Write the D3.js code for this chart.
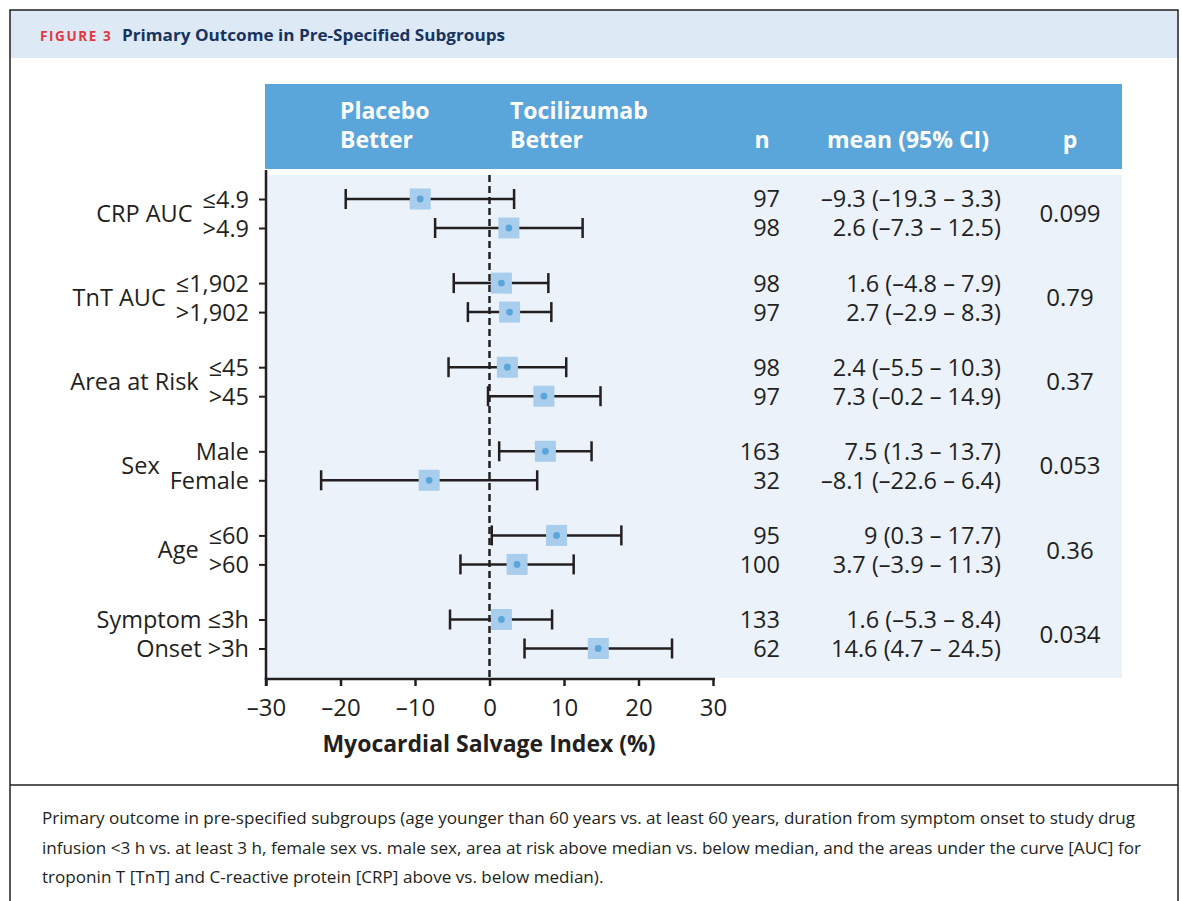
<!DOCTYPE html>
<html>
<head>
<meta charset="utf-8">
<script src="https://cdn.jsdelivr.net/npm/d3@7"></script>
<style>
  body { margin: 0; background: #fff; }
  svg { display: block; font-family: "Open Sans", "Noto Sans", sans-serif; }
</style>
</head>
<body>
<script>
// subgroup data
const groups = ["CRP AUC", "TnT AUC", "Area at Risk", "Sex", "Age", ""]
const subgroups = ["≤4.9", ">4.9", "≤1,902", ">1,902", "≤45", ">45",
  "Male", "Female", "≤60", ">60", "Symptom ≤3h", "Onset >3h"]
const nValues = [97, 98, 98, 97, 98, 97, 163, 32, 95, 100, 133, 62]
const means = [-9.3, 2.6, 1.6, 2.7, 2.4, 7.3, 7.5, -8.1, 9, 3.7, 1.6, 14.6]
const lower = [-19.3, -7.3, -4.8, -2.9, -5.5, -0.2, 1.3, -22.6, 0.3, -3.9, -5.3, 4.7]
const upper = [3.3, 12.5, 7.9, 8.3, 10.3, 14.9, 13.7, 6.4, 17.7, 11.3, 8.4, 24.5]
const meanLabels = ["–9.3 (–19.3 – 3.3)", "2.6 (–7.3 – 12.5)", "1.6 (–4.8 – 7.9)",
  "2.7 (–2.9 – 8.3)", "2.4 (–5.5 – 10.3)", "7.3 (–0.2 – 14.9)", "7.5 (1.3 – 13.7)",
  "–8.1 (–22.6 – 6.4)", "9 (0.3 – 17.7)", "3.7 (–3.9 – 11.3)", "1.6 (–5.3 – 8.4)",
  "14.6 (4.7 – 24.5)"]
const pValues = ["0.099", "0.79", "0.37", "0.053", "0.36", "0.034"]
const xTicks = [-30, -20, -10, 0, 10, 20, 30]
const captionLines = [
  "Primary outcome in pre-specified subgroups (age younger than 60 years vs. at least 60 years, duration from symptom onset to study drug",
  "infusion <3 h vs. at least 3 h, female sex vs. male sex, area at risk above median vs. below median, and the areas under the curve [AUC] for",
  "troponin T [TnT] and C-reactive protein [CRP] above vs. below median)."
]

const W = 1182, H = 901
const ink = "#231f20"
const headerBlue = "#5aa5da"

const rows = subgroups.map(function (s, i) {
  return {label: s, group: Math.floor(i / 2), sub: i % 2, n: nValues[i],
    mean: means[i], lo: lower[i], hi: upper[i], text: meanLabels[i]}
})
rows.forEach(function (d) { d.pos = d.group * 2.9 + d.sub })

const svg = d3.select("body").append("svg")
    .attr("width", W)
    .attr("height", H)

// frame + title band
svg.append("rect").attr("x", 10).attr("y", 10).attr("width", 1168).attr("height", 48)
    .attr("fill", "#dde9f5")
svg.append("rect").attr("x", 10).attr("y", 10).attr("width", 1168).attr("height", H)
    .attr("fill", "none").attr("stroke", ink).attr("stroke-width", 1.5)
svg.append("line").attr("x1", 10).attr("x2", 1178).attr("y1", 785).attr("y2", 785)
    .attr("stroke", ink).attr("stroke-width", 1.5)

const title = svg.append("text").attr("x", 40).attr("y", 41).attr("font-weight", 700)
title.append("tspan").attr("fill", "#e2373f").attr("font-size", 13.5)
    .attr("letter-spacing", 1.6).text("FIGURE 3")
title.append("tspan").attr("x", 122).attr("fill", "#17335e").attr("font-size", 16.5)
    .attr("textLength", 383).attr("lengthAdjust", "spacingAndGlyphs")
    .text("Primary Outcome in Pre-Specified Subgroups")

// header band
svg.append("rect").attr("x", 265).attr("y", 84).attr("width", 857).attr("height", 85)
    .attr("fill", headerBlue)
const head = svg.append("g").attr("fill", "#fff").attr("font-weight", 700).attr("font-size", 23)
head.append("text").attr("x", 340).attr("y", 119).text("Placebo")
head.append("text").attr("x", 340).attr("y", 148).text("Better")
head.append("text").attr("x", 510).attr("y", 119).text("Tocilizumab")
head.append("text").attr("x", 510).attr("y", 148).text("Better")
head.append("text").attr("x", 762).attr("y", 148).attr("text-anchor", "middle").text("n")
head.append("text").attr("x", 908).attr("y", 148).attr("text-anchor", "middle").text("mean (95% CI)")
head.append("text").attr("x", 1070).attr("y", 148).attr("text-anchor", "middle").text("p")

// panel
svg.append("rect").attr("x", 266).attr("y", 175).attr("width", 856).attr("height", 503)
    .attr("fill", "#ebf2fa")

const x = d3.scaleLinear().domain([-30, 30]).range([266, 713])
const y = d3.scaleLinear().domain([0, 1]).range([199, 228])

// x axis
const xAxis = svg.append("g")
    .attr("transform", "translate(0,679)")
    .call(d3.axisBottom(x).tickValues(xTicks).tickSize(7).tickPadding(13)
      .tickFormat(function (d) { return d < 0 ? "–" + Math.abs(d) : d }))
xAxis.select(".domain").attr("stroke", ink).attr("stroke-width", 2.5)
    .attr("d", "M" + x(-30) + ",7V0H" + (x(30) + 2))
xAxis.selectAll(".tick line").attr("stroke", ink).attr("stroke-width", 2.5)
xAxis.selectAll(".tick text").attr("fill", ink).attr("font-size", 24)
    .attr("font-family", "Open Sans, sans-serif")

svg.append("text").attr("x", 489).attr("y", 752).attr("text-anchor", "middle")
    .attr("font-size", 23).attr("font-weight", 700).attr("fill", ink)
    .text("Myocardial Salvage Index (%)")

// y axis with subgroup labels
const yAxis = svg.append("g")
    .attr("transform", "translate(266,0)")
    .call(d3.axisLeft(y).tickValues(rows.map(function (d) { return d.pos }))
      .tickSize(7).tickPadding(10)
      .tickFormat(function (d, i) { return rows[i].label }))
yAxis.select(".domain").attr("stroke", ink).attr("stroke-width", 2.5)
    .attr("d", "M0,170V680")
yAxis.selectAll(".tick line").attr("stroke", ink).attr("stroke-width", 2)
yAxis.selectAll(".tick text").attr("fill", ink).attr("font-size", 23.5)
    .attr("font-family", "Open Sans, sans-serif").attr("dy", "0.36em")

// group labels to the left of their subgroup labels
const tickTexts = yAxis.selectAll(".tick text").nodes()
groups.forEach(function (g, gi) {
  if (!g) return
  const w = Math.max(tickTexts[gi * 2].getComputedTextLength(),
    tickTexts[gi * 2 + 1].getComputedTextLength())
  svg.append("text")
      .attr("x", 266 - 17 - w - 10)
      .attr("y", y(gi * 2.9 + 0.5))
      .attr("dy", "0.36em")
      .attr("text-anchor", "end")
      .attr("font-size", 23.5)
      .attr("fill", ink)
      .text(g)
})

// zero line
svg.append("line").attr("x1", x(0)).attr("x2", x(0)).attr("y1", 175).attr("y2", 679)
    .attr("stroke", ink).attr("stroke-width", 2.5).attr("stroke-dasharray", "7,4")

// confidence intervals
const row = svg.selectAll("g.row")
    .data(rows)
    .enter()
    .append("g")
    .attr("class", "row")
    .attr("transform", function (d) { return `translate(0,${y(d.pos)})` })

row.append("line")
    .attr("x1", function (d) { return x(d.lo) })
    .attr("x2", function (d) { return x(d.hi) })
    .attr("stroke", ink).attr("stroke-width", 2.5)
row.append("line")
    .attr("x1", function (d) { return x(d.lo) })
    .attr("x2", function (d) { return x(d.lo) })
    .attr("y1", -10).attr("y2", 10)
    .attr("stroke", ink).attr("stroke-width", 2.5)
row.append("line")
    .attr("x1", function (d) { return x(d.hi) })
    .attr("x2", function (d) { return x(d.hi) })
    .attr("y1", -10).attr("y2", 10)
    .attr("stroke", ink).attr("stroke-width", 2.5)
row.append("rect")
    .attr("x", function (d) { return x(d.mean) - 10.5 })
    .attr("y", -10.5)
    .attr("width", 21).attr("height", 21)
    .attr("fill", "#a9cdec")
row.append("circle")
    .attr("cx", function (d) { return x(d.mean) })
    .attr("r", 3.4)
    .attr("fill", headerBlue)

// table columns
row.append("text")
    .attr("x", 780).attr("dy", "0.36em").attr("text-anchor", "end")
    .attr("font-size", 23.5).attr("fill", ink)
    .text(function (d) { return d.n })
row.append("text")
    .attr("x", 1001).attr("dy", "0.36em").attr("text-anchor", "end")
    .attr("font-size", 23.5).attr("fill", ink)
    .text(function (d) { return d.text })

svg.selectAll("text.p")
    .data(pValues)
    .enter()
    .append("text")
    .attr("class", "p")
    .attr("x", 1070)
    .attr("y", function (d, i) { return y(i * 2.9 + 0.5) })
    .attr("dy", "0.36em").attr("text-anchor", "middle")
    .attr("font-size", 24).attr("fill", ink)
    .text(function (d) { return d })

// caption
svg.selectAll("text.caption")
    .data(captionLines)
    .enter()
    .append("text")
    .attr("class", "caption")
    .attr("x", 42)
    .attr("y", function (d, i) { return 824 + i * 29.5 })
    .attr("font-size", 17.1)
    .attr("fill", ink)
    .text(function (d) { return d })
</script>
</body>
</html>
